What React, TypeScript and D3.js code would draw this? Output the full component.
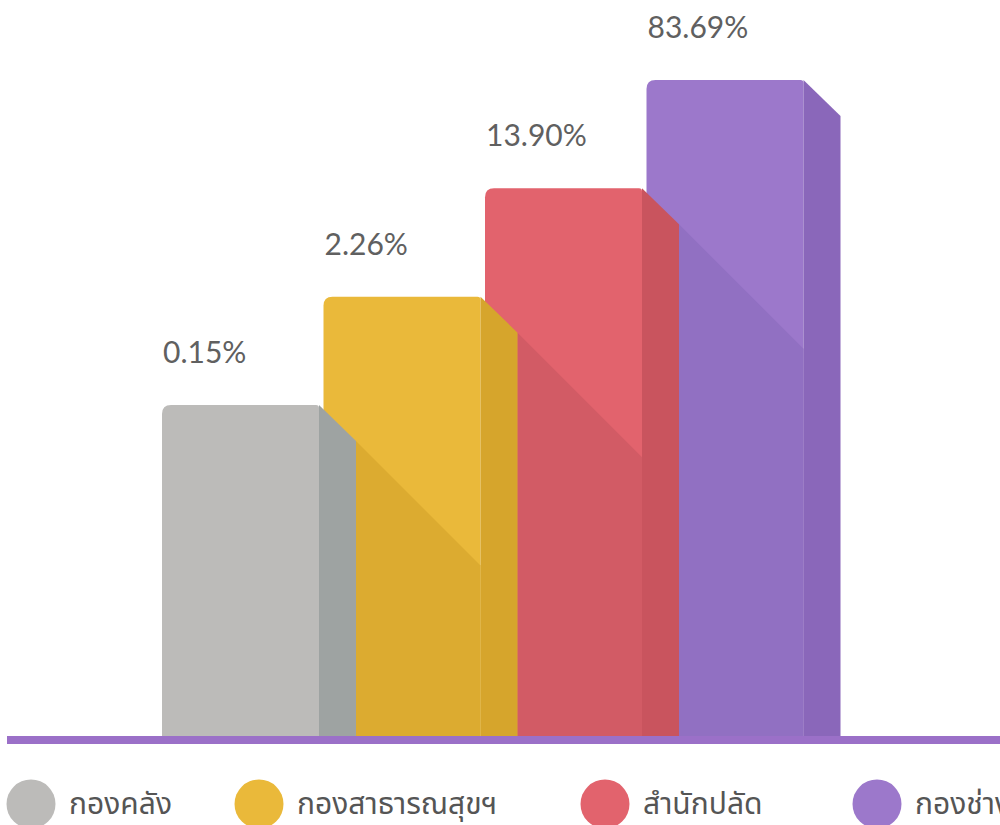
import React from 'react';
import * as d3 from 'd3';

const categories = ['กองคลัง', 'กองสาธารณสุขฯ', 'สำนักปลัด', 'กองช่าง'];
const values = [0.15, 2.26, 13.9, 83.69];
const frontColors = ['#bcbbb9', '#eab93a', '#e2636d', '#9c78cb'];
const sideColors = ['#9ea3a2', '#d6a52c', '#c9545e', '#8a67ba'];
const shadowColors = ['#a9a9a7', '#dcab30', '#d25b65', '#9170c2'];

const W = 1000;
const H = 825;
const BASE = 737;
const DEPTH = 37;
const CHAMFER = 36;
const legendX = [31, 259, 605, 877];

export default function App() {
  const x = d3.scaleBand<string>().domain(categories).range([162, 808]).padding(0);
  const ranks = values.map((v) => values.filter((o) => o < v).length);
  const y = d3.scaleLinear().domain([0, categories.length - 1]).range([405, 80]);
  const fw = x.bandwidth() - 4.5;

  const bars = categories.map((c, i) => {
    const x0 = x(c) as number;
    const top = y(ranks[i]);
    return { c, i, x0, x1: x0 + fw, top };
  });

  const frontPath = (b: any) => {
    const r = 9;
    const p = d3.path();
    p.moveTo(b.x0, BASE);
    p.lineTo(b.x0, b.top + r);
    p.quadraticCurveTo(b.x0, b.top, b.x0 + r, b.top);
    p.lineTo(b.x1 - 3, b.top);
    p.quadraticCurveTo(b.x1, b.top, b.x1, b.top + 3);
    p.lineTo(b.x1, BASE);
    p.closePath();
    return p.toString();
  };
  const sidePath = (b: any) => {
    const p = d3.path();
    p.moveTo(b.x1, BASE);
    p.lineTo(b.x1, b.top);
    p.lineTo(b.x1 + DEPTH, b.top + CHAMFER);
    p.lineTo(b.x1 + DEPTH, BASE);
    p.closePath();
    return p.toString();
  };
  const shadowPath = (b: any, prev: any) => {
    const sx = prev.x1 + DEPTH;
    const sy = prev.top + CHAMFER;
    const p = d3.path();
    p.moveTo(sx, sy);
    p.lineTo(b.x1, sy + (b.x1 - sx));
    p.lineTo(b.x1, BASE);
    p.lineTo(sx, BASE);
    p.closePath();
    return p.toString();
  };

  const ordered = [...bars].reverse();

  return (
    <svg width={W} height={H} style={{ position: 'absolute', left: 0, top: 0, background: '#fff' }}>
      {ordered.map((b) => (
        <g key={b.c}>
          <path d={frontPath(b)} fill={frontColors[b.i]} />
          {b.i > 0 && <path d={shadowPath(b, bars[b.i - 1])} fill={shadowColors[b.i]} />}
          <path d={sidePath(b)} fill={sideColors[b.i]} />
        </g>
      ))}
      {bars.map((b) => (
        <text
          key={'l' + b.c}
          x={b.x0 + 1}
          y={b.top - 42}
          fontFamily="Lato, 'Open Sans', sans-serif"
          fontSize={30}
          fill="#606060"
        >
          {values[b.i].toFixed(2) + '%'}
        </text>
      ))}
      <line x1={7} x2={W} y1={BASE + 3} y2={BASE + 3} stroke="#9b70c8" strokeWidth={8} />
      {categories.map((c, i) => (
        <g key={'g' + c}>
          <circle cx={legendX[i]} cy={804} r={24.5} fill={frontColors[i]} />
          <text
            x={legendX[i] + 38}
            y={814}
            fontFamily="'Noto Sans', 'Noto Sans Thai', 'DejaVu Sans', sans-serif"
            fontSize={30}
            fill="#555"
          >
            {c}
          </text>
        </g>
      ))}
    </svg>
  );
}
